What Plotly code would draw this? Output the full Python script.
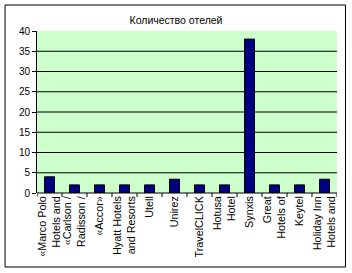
import plotly.graph_objects as go

categories = [
    "«Marco Polo<br>Hotels and",
    "«Carlson /<br>Radisson /",
    "«Accor»",
    "Hyatt Hotels<br>and Resorts",
    "Utell",
    "Unirez",
    "TravelCLICK",
    "Hotusa<br>Hotel",
    "Synxis",
    "Great<br>Hotels of",
    "Keytel",
    "Holiday Inn<br>Hotels and",
]
values = [4, 2, 2, 2, 2, 3.4, 2, 2, 38, 2, 2, 3.4]
y_ticks = [0, 5, 10, 15, 20, 25, 30, 35, 40]

L, R, T, B = 37, 14.5, 31, 80
W, H = 352, 273
pw, ph = W - L - R, H - T - B

fig = go.Figure(go.Bar(
    x=list(range(len(categories))), y=values,
    marker=dict(color="#000080", line=dict(color="black", width=1)),
))

fig.update_layout(
    width=W, height=H,
    margin=dict(l=L, r=R, t=T, b=B),
    paper_bgcolor="white", plot_bgcolor="#CCFFCC",
    font=dict(family="Liberation Sans, Arial", size=10, color="black"),
    title=dict(text="Количество отелей", x=0.5, xref="container", y=1 - 20 / H,
               yanchor="middle", font=dict(size=10.5)),
    bargap=0.6,
    showlegend=False,
)
fig.update_xaxes(
    tickmode="array", tickvals=list(range(len(categories))), ticktext=categories,
    tickangle=-90, range=[-0.5, len(categories) - 0.5], tickfont=dict(size=10.8),
    ticks="", showline=False, showgrid=False, zeroline=False,
)
fig.update_yaxes(
    range=[0, 40], tickvals=y_ticks, ticks="outside", ticklen=4,
    tickcolor="black", showline=True, linecolor="black", linewidth=1,
    showgrid=False, zeroline=False,
)
# horizontal gridlines (not at the top edge)
for v in y_ticks[1:-1]:
    fig.add_shape(type="line", xref="paper", yref="y", x0=0, x1=1, y0=v, y1=v,
                  line=dict(color="black", width=1), layer="below")
# category boundary tick marks and x axis line
for i in range(len(categories) + 1):
    fig.add_shape(type="line", xref="x", yref="paper", x0=i - 0.5, x1=i - 0.5,
                  y0=0, y1=-4 / ph, line=dict(color="black", width=1))
fig.add_shape(type="line", xref="paper", yref="paper", x0=0, x1=1, y0=0, y1=0,
              line=dict(color="black", width=1))
# outer chart border
fig.add_shape(type="rect", xref="paper", yref="paper",
              x0=(5 - L) / pw, x1=(346 - L) / pw,
              y0=(T + ph - 267) / ph, y1=(T + ph - 5) / ph,
              line=dict(color="black", width=1), layer="below")

fig.write_html("out.html")
